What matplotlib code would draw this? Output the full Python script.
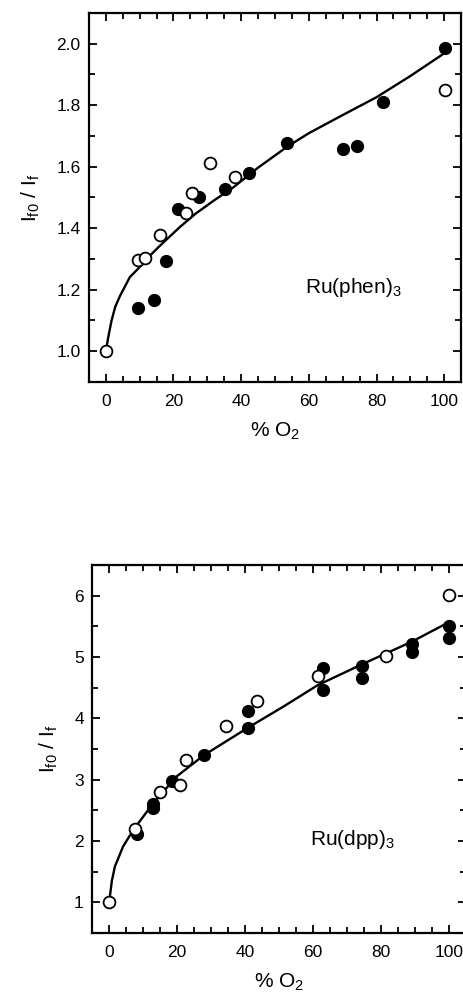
import numpy as np
import matplotlib
matplotlib.use("Agg")
import matplotlib.pyplot as plt
from matplotlib.ticker import MultipleLocator, FormatStrFormatter

plt.rcParams['font.family'] = ['Liberation Sans', 'DejaVu Sans']
plt.rcParams['mathtext.fontset'] = 'custom'
plt.rcParams['mathtext.rm'] = 'Liberation Sans'
plt.rcParams['mathtext.it'] = 'Liberation Sans'

# Ru(phen)3 panel
phen_open_x = [0, 9.6, 11.7, 16.0, 23.7, 25.6, 30.9, 38.1, 100.3]
phen_open_y = [1.0, 1.296, 1.303, 1.378, 1.451, 1.516, 1.611, 1.566, 1.848]
phen_fill_x = [9.6, 14.2, 17.7, 21.4, 27.6, 35.1, 42.2, 53.6, 70.2, 74.1, 82.0, 100.2]
phen_fill_y = [1.141, 1.168, 1.292, 1.462, 1.502, 1.527, 1.578, 1.676, 1.658, 1.667, 1.81, 1.985]
phen_fit_x = [0, 0.8, 1.7, 2.8, 4.2, 7.1, 9.6, 12.5, 16.0, 21.9, 26.5, 31.8, 37.7, 45, 53.6, 60, 70, 80, 90, 99.5]
phen_fit_y = [1.0, 1.05, 1.10, 1.145, 1.18, 1.241, 1.269, 1.305, 1.343, 1.404, 1.447, 1.489, 1.533, 1.597, 1.665, 1.709, 1.768, 1.826, 1.895, 1.965]

# Ru(dpp)3 panel
dpp_open_x = [0, 7.6, 15.1, 20.8, 22.6, 34.5, 43.6, 61.3, 81.3, 99.8]
dpp_open_y = [1.0, 2.20, 2.80, 2.92, 3.32, 3.87, 4.28, 4.69, 5.02, 6.01]
dpp_fill_x = [8.3, 12.8, 12.9, 18.6, 27.9, 40.9, 40.9, 62.8, 62.8, 74.3, 74.3, 89.0, 89.0, 100, 100]
dpp_fill_y = [2.12, 2.60, 2.53, 2.97, 3.40, 4.12, 3.85, 4.82, 4.47, 4.85, 4.65, 5.21, 5.08, 5.50, 5.31]
dpp_fit_x = [0, 0.8, 1.7, 4.1, 7.1, 12.9, 19.8, 27.9, 40.9, 51.2, 61.3, 74.3, 89.0, 99.3]
dpp_fit_y = [1.0, 1.35, 1.585, 1.91, 2.18, 2.61, 3.05, 3.40, 3.85, 4.19, 4.54, 4.88, 5.25, 5.55]

fig = plt.figure(figsize=(4.63, 9.96), dpi=100)
ax1 = fig.add_axes([0.192, 0.6165, 0.804, 0.3705])
ax2 = fig.add_axes([0.199, 0.0633, 0.808, 0.3694])


def style(ax, ymaj, ymin):
    ax.set_xlim(-5, 105)
    ax.xaxis.set_major_locator(MultipleLocator(20))
    ax.xaxis.set_minor_locator(MultipleLocator(5))
    ax.yaxis.set_major_locator(MultipleLocator(ymaj))
    ax.yaxis.set_minor_locator(MultipleLocator(ymin))
    ax.tick_params(which='both', direction='in', top=True, right=True, width=1.3, labelsize=12.5)
    ax.tick_params(which='major', length=6)
    ax.tick_params(which='minor', length=4)
    ax.tick_params(axis='x', which='major', pad=9)
    ax.tick_params(axis='y', which='major', pad=6)
    for s in ax.spines.values():
        s.set_linewidth(1.6)
    ax.set_xlabel('% O$_2$', fontsize=15, labelpad=8)
    ax.set_ylabel('I$_{f0}$ / I$_f$', fontsize=15, labelpad=10)


ax1.plot(phen_fit_x, phen_fit_y, color='black', lw=1.7, zorder=2)
ax1.plot(phen_fill_x, phen_fill_y, 'o', color='black', ms=8.5, zorder=3)
ax1.plot(phen_open_x, phen_open_y, 'o', mfc='white', mec='black', mew=1.3, ms=8.5, zorder=4)
ax1.set_ylim(0.9, 2.1)
style(ax1, 0.2, 0.1)
ax1.yaxis.set_major_formatter(FormatStrFormatter('%.1f'))
ax1.text(59, 1.19, 'Ru(phen)$_3$', fontsize=15)

ax2.plot(dpp_fit_x, dpp_fit_y, color='black', lw=1.7, zorder=2)
ax2.plot(dpp_fill_x, dpp_fill_y, 'o', color='black', ms=8.5, zorder=3)
ax2.plot(dpp_open_x, dpp_open_y, 'o', mfc='white', mec='black', mew=1.3, ms=8.5, zorder=4)
ax2.set_ylim(0.5, 6.5)
style(ax2, 1, 0.5)
ax2.text(59, 1.94, 'Ru(dpp)$_3$', fontsize=15)

fig.savefig('out.png', dpi=100)
